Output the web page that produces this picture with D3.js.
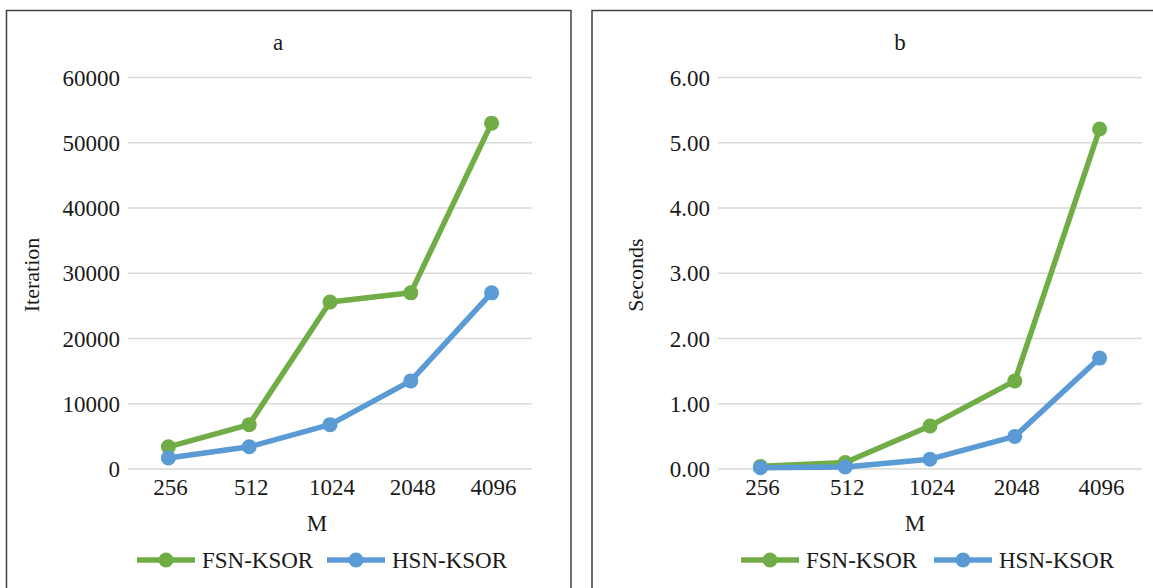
<!DOCTYPE html>
<html><head><meta charset="utf-8">
<script src="https://cdn.jsdelivr.net/npm/d3@7"></script>
<style>body{margin:0;background:#fff}svg{display:block}text{font-family:"Liberation Serif","Times New Roman",serif;fill:#1a1a1a}</style>
</head><body><svg id="c" width="1153" height="588"></svg>
<script>
const categories = ["256","512","1024","2048","4096"];
const seriesNames = ["FSN-KSOR","HSN-KSOR"];
const iterFSN = [3400, 6800, 25600, 27000, 53000];
const iterHSN = [1700, 3400, 6800, 13500, 27000];
const secFSN = [0.04, 0.10, 0.66, 1.35, 5.21];
const secHSN = [0.02, 0.03, 0.15, 0.50, 1.70];
const iterTicks = [0,10000,20000,30000,40000,50000,60000];
const secTicks = [0,1,2,3,4,5,6];
const colors = ["#70AD47","#5B9BD5"];

const svg = d3.select("#c");
const FS = 23;

function panel(cfg){
  const g = svg.append("g");
  // border
  g.append("path").attr("d", cfg.border).attr("fill","none").attr("stroke","#404040").attr("stroke-width",1.5);
  const x = d3.scalePoint().domain(categories).range([cfg.x0, cfg.x1]).padding(0.5);
  const y = d3.scaleLinear().domain([0, d3.max(cfg.ticks)]).range([469, 77.5]);
  // gridlines
  g.selectAll(".grid").data(cfg.ticks).join("line")
    .attr("x1", cfg.x0).attr("x2", cfg.x1).attr("y1", d=>y(d)).attr("y2", d=>y(d))
    .attr("stroke","#d9d9d9").attr("stroke-width",1.5);
  // y tick labels
  g.selectAll(".yl").data(cfg.ticks).join("text")
    .attr("x", cfg.x0-8).attr("y", d=>y(d)).attr("dy","0.35em").attr("text-anchor","end")
    .attr("font-size",FS).text(cfg.fmt);
  // x tick labels
  g.selectAll(".xl").data(categories).join("text")
    .attr("x", d=>x(d)+2).attr("y", 487).attr("dy","0.35em").attr("text-anchor","middle")
    .attr("font-size",FS).text(d=>d);
  // titles
  g.append("text").attr("x", cfg.titleX).attr("y", 42).attr("dy","0.35em").attr("text-anchor","middle").attr("font-size",FS).text(cfg.title);
  g.append("text").attr("x", cfg.mX).attr("y", 523).attr("dy","0.35em").attr("text-anchor","middle").attr("font-size",FS).text("M");
  g.append("text").attr("transform",`translate(${cfg.yTitleX},275) rotate(-90)`).attr("dy","0.35em").attr("text-anchor","middle").attr("font-size",FS-1).text(cfg.yTitle);
  // series
  const line = d3.line().x((d,i)=>x(categories[i])).y(d=>y(d));
  cfg.series.forEach((s,k)=>{
    g.append("path").datum(s).attr("d",line).attr("fill","none").attr("stroke",colors[k])
      .attr("stroke-width",5.5).attr("stroke-linejoin","round").attr("stroke-linecap","round");
    g.selectAll(".pt"+k).data(s).join("circle")
      .attr("cx",(d,i)=>x(categories[i])).attr("cy",d=>y(d)).attr("r",7.5).attr("fill",colors[k]);
  });
  // legend
  seriesNames.forEach((n,k)=>{
    const lx = cfg.legX[k];
    g.append("line").attr("x1",lx).attr("x2",lx+58).attr("y1",560).attr("y2",560).attr("stroke",colors[k]).attr("stroke-width",5.5);
    g.append("circle").attr("cx",lx+29).attr("cy",560).attr("r",7.5).attr("fill",colors[k]);
    g.append("text").attr("x",lx+65).attr("y",560).attr("dy","0.35em").attr("font-size",FS).text(n);
  });
}

panel({border:"M6.5,600V10.5H571V600", x0:128, x1:532, ticks:iterTicks, fmt:d=>String(d),
  series:[iterFSN, iterHSN], title:"a", titleX:278, mX:317, yTitle:"Iteration", yTitleX:31, legX:[137,327]});
panel({border:"M592,600V10.5H1160", x0:718, x1:1142, ticks:secTicks, fmt:d=>d.toFixed(2),
  series:[secFSN, secHSN], title:"b", titleX:900, mX:915, yTitle:"Seconds", yTitleX:635, legX:[741,934]});
</script></body></html>
